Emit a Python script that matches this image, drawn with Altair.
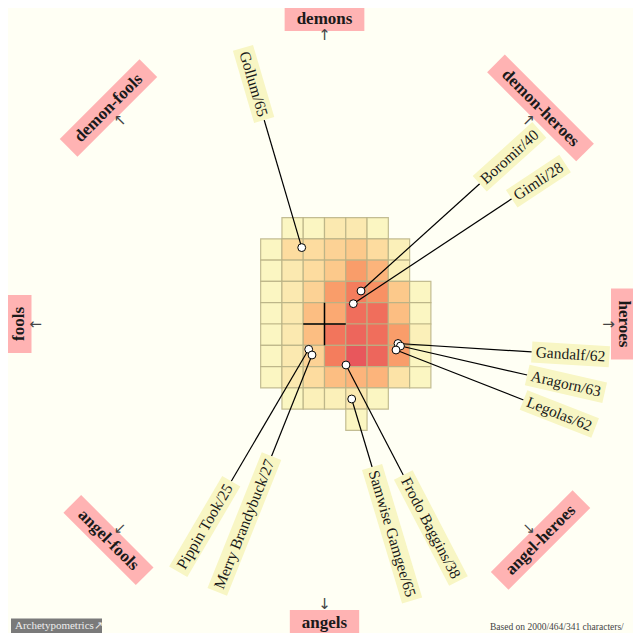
import math
import altair as alt
import pandas as pd

# ---------------- data ----------------
# heat map rows, top to bottom: (first column index, intensity values)
heat_rows = [
    (1, [1, 1, 2, 2, 1]),
    (0, [1, 3, 3, 3.5, 4, 3, 1.5]),
    (0, [1, 2, 3, 4, 6, 5, 1.5]),
    (0, [1, 2, 3.5, 6, 7.5, 6.5, 4, 1]),
    (0, [1, 2, 4.5, 5.5, 8.5, 8.5, 4.5, 1]),
    (0, [1, 2, 4.5, 8, 9, 8.5, 6, 1.5]),
    (0, [1, 2, 3.5, 7.5, 10, 9, 6, 1]),
    (0, [1, 2, 3, 4.5, 5, 5, 2.5, 1]),
    (1, [1, 1.5, 1.5, 2, 1]),
    (4, [1]),
]

names = ["Gandalf", "Aragorn", "Legolas", "Boromir", "Gimli", "Frodo Baggins",
         "Samwise Gamgee", "Pippin Took", "Merry Brandybuck", "Gollum"]
scores = [62, 63, 62, 40, 28, 38, 65, 25, 27, 65]
pos_x = [3.454, 3.571, 3.36, 1.715, 1.353, 1.01, 1.278, -0.742, -0.587, -1.07]
pos_y = [-0.916, -1.034, -1.222, 1.55, 0.954, -1.927, -3.524, -1.189, -1.457, 3.59]
# leader line direction (deg, clockwise from east) and length (px)
leader_angle = [3.6, 12.9, 21.4, -42.1, -33.5, 62.5, 73.3, 120.4, 111.8, -106.4]
leader_len = [134, 130, 137, 160, 190, 124, 71, 153, 109, 133]

categories = ["demons", "demon-heroes", "heroes", "angel-heroes",
              "angels", "angel-fools", "fools", "demon-fools"]
cat_dir = [-90, -45, 0, 45, 90, 135, 180, -135]
cat_rad = [305.5, 305.5, 299, 305.5, 298.5, 305.5, 305.5, 305.5]
cat_arr_rad = [289, 289, 284, 289, 280, 289, 289, 289]
cat_rot = [0, 45, 90, 315, 0, 45, 270, 315]
cat_arrow = ["↑", "↗", "→", "↘", "↓", "↙", "←", "↖"]

# ---------------- layout helpers ----------------
S = 21.28           # px per unit
CX, CY = 324.5, 324  # page position of origin
W = H = 625
OFF = 8

def to_data(px, py):
    return (px - CX) / S, (CY - py) / S

x_dom = [(OFF - CX) / S, (OFF + W - CX) / S]
y_dom = [(CY - OFF - H) / S, (CY - OFF) / S]

def X(f):
    return alt.X(f, type="quantitative", scale=alt.Scale(domain=x_dom, nice=False, zero=False), axis=None)

def Y(f):
    return alt.Y(f, type="quantitative", scale=alt.Scale(domain=y_dom, nice=False, zero=False), axis=None)

TIMES = {' ': 250, '/': 278, '-': 333, 'A': 722, 'B': 667, 'F': 556, 'G': 722, 'L': 611,
         'M': 889, 'P': 556, 'S': 556, 'T': 611,
         'a': 444, 'b': 500, 'c': 444, 'd': 500, 'e': 444, 'f': 333, 'g': 500, 'h': 500,
         'i': 278, 'k': 500, 'l': 278, 'm': 778, 'n': 500, 'o': 500, 'p': 500, 'r': 333,
         's': 389, 't': 278, 'u': 500, 'w': 722, 'y': 500}
TIMES_B = {'-': 333, 'a': 500, 'd': 556, 'e': 444, 'f': 333, 'g': 500, 'h': 556, 'l': 278,
           'm': 833, 'n': 556, 'o': 500, 'r': 444, 's': 389}

def width(txt, size, table):
    return sum(table.get(c, 500) for c in txt) / 1000 * size

# ---------------- tables ----------------
cells = []
for r, (c0, vals) in enumerate(heat_rows):
    for k, v in enumerate(vals):
        c = c0 + k
        cells.append({"x": c - 3, "x2": c - 2, "y": 4 - r, "y2": 5 - r, "v": v})
cells = pd.DataFrame(cells)

cross = pd.DataFrame({"x": [-1, 0], "x2": [1, 0], "y": [0, -1], "y2": [0, 1]})

LFS = 15.5
lead, boxes, texts = [], [], []
for n, sc, x, y, a, L in zip(names, scores, pos_x, pos_y, leader_angle, leader_len):
    px, py = CX + x * S, CY - y * S
    ux, uy = math.cos(math.radians(a)), math.sin(math.radians(a))
    ax_, ay_ = px + L * ux, py + L * uy
    label = f"{n}/{sc}"
    tw = width(label, LFS, TIMES) + 8
    bx, by = ax_ + tw * ux, ay_ + tw * uy
    tx, ty = ax_ + tw / 2 * ux, ay_ + tw / 2 * uy
    rot = a if ux >= 0 else a + 180
    rot = rot % 360
    d0 = to_data(ax_, ay_)
    d1 = to_data(bx, by)
    dt = to_data(tx, ty)
    lead.append({"x": x, "y": y, "x2": d0[0], "y2": d0[1]})
    boxes.append({"x": d0[0], "y": d0[1], "x2": d1[0], "y2": d1[1]})
    texts.append({"x": dt[0], "y": dt[1], "t": label, "ang": rot})
lead = pd.DataFrame(lead)
boxes = pd.DataFrame(boxes)
texts = pd.DataFrame(texts)
pts = pd.DataFrame({"x": pos_x, "y": pos_y, "name": names})

CFS = 17
cboxes, ctexts, carrows = [], [], []
for cat, d, R, RA, rot, ar in zip(categories, cat_dir, cat_rad, cat_arr_rad, cat_rot, cat_arrow):
    ux, uy = math.cos(math.radians(d)), math.sin(math.radians(d))
    cx, cy = CX + R * ux, CY + R * uy
    tw = width(cat, CFS, TIMES_B) + 24
    rx, ry = math.cos(math.radians(rot)), math.sin(math.radians(rot))
    p0 = to_data(cx - tw / 2 * rx, cy - tw / 2 * ry)
    p1 = to_data(cx + tw / 2 * rx, cy + tw / 2 * ry)
    pc = to_data(cx, cy)
    pa = to_data(CX + RA * ux, CY + RA * uy)
    cboxes.append({"x": p0[0], "y": p0[1], "x2": p1[0], "y2": p1[1]})
    ctexts.append({"x": pc[0], "y": pc[1], "t": cat, "ang": rot})
    carrows.append({"x": pa[0], "y": pa[1], "t": ar})
cboxes = pd.DataFrame(cboxes)
ctexts = pd.DataFrame(ctexts)
carrows = pd.DataFrame(carrows)

f0 = to_data(11, 626)
f1 = to_data(102, 626)
ftext = to_data(15, 626)
footer_box = pd.DataFrame([{"x": f0[0], "y": f0[1], "x2": f1[0], "y2": f1[1]}])
footer_txt = pd.DataFrame([{"x": ftext[0], "y": ftext[1], "t": "Archetypometrics↗"}])
rt = to_data(490, 627)
right_txt = pd.DataFrame([{"x": rt[0], "y": rt[1], "t": "Based on 2000/464/341 characters/"}])

# ---------------- layers ----------------
heat = alt.Chart(cells).mark_rect(stroke="#b9b185", strokeWidth=1.2, strokeOpacity=0.85).encode(
    x=X("x"), x2="x2", y=Y("y"), y2="y2",
    color=alt.Color("v:Q", legend=None, scale=alt.Scale(
        domain=[1, 3, 5, 7, 10],
        range=["#fbf6c2", "#fddc9f", "#fcb47b", "#f6845e", "#e8575c"])),
)
cross_l = alt.Chart(cross).mark_rule(color="black", strokeWidth=1.5).encode(
    x=X("x"), x2="x2", y=Y("y"), y2="y2")
lead_l = alt.Chart(lead).mark_rule(color="black", strokeWidth=1.2).encode(
    x=X("x"), x2="x2", y=Y("y"), y2="y2")
pts_l = alt.Chart(pts).mark_point(filled=True, fill="white", stroke="black",
                                  strokeWidth=1, size=62, opacity=1).encode(x=X("x"), y=Y("y"))
box_l = alt.Chart(boxes).mark_rule(color="#f8f6c4", strokeWidth=21, strokeCap="butt").encode(
    x=X("x"), x2="x2", y=Y("y"), y2="y2")
text_l = alt.Chart(texts).mark_text(font="Liberation Serif", fontSize=LFS, color="#1a1a1a",
                                    align="center", baseline="middle").encode(
    x=X("x"), y=Y("y"), text="t:N", angle=alt.Angle("ang:Q", scale=None))
cbox_l = alt.Chart(cboxes).mark_rule(color="#ffb3b3", strokeWidth=25, strokeCap="butt").encode(
    x=X("x"), x2="x2", y=Y("y"), y2="y2")
ctext_l = alt.Chart(ctexts).mark_text(font="Liberation Serif", fontSize=CFS, fontWeight="bold",
                                      color="#1a1a1a", align="center", baseline="middle").encode(
    x=X("x"), y=Y("y"), text="t:N", angle=alt.Angle("ang:Q", scale=None))
arrow_l = alt.Chart(carrows).mark_text(font="DejaVu Sans", fontSize=15, color="#444444",
                                       align="center", baseline="middle").encode(
    x=X("x"), y=Y("y"), text="t:N")
fbox_l = alt.Chart(footer_box).mark_rule(color="#7a7a7a", strokeWidth=15, strokeCap="butt").encode(
    x=X("x"), x2="x2", y=Y("y"), y2="y2")
ftext_l = alt.Chart(footer_txt).mark_text(font="Liberation Serif", fontSize=11, color="#eeeeee",
                                          align="left", baseline="middle").encode(
    x=X("x"), y=Y("y"), text="t:N")
rtext_l = alt.Chart(right_txt).mark_text(font="Liberation Serif", fontSize=9.5, color="#444444",
                                         align="left", baseline="middle").encode(
    x=X("x"), y=Y("y"), text="t:N")

chart = alt.layer(heat, cross_l, lead_l, pts_l, box_l, text_l, cbox_l, ctext_l, arrow_l,
                  fbox_l, ftext_l, rtext_l).properties(
    width=W, height=H, padding=0, autosize=alt.AutoSizeParams(type="none"),
    background="#fffff4",
).configure_view(stroke=None)

chart.save("out.html", embed_options={"renderer": "svg", "actions": False})
